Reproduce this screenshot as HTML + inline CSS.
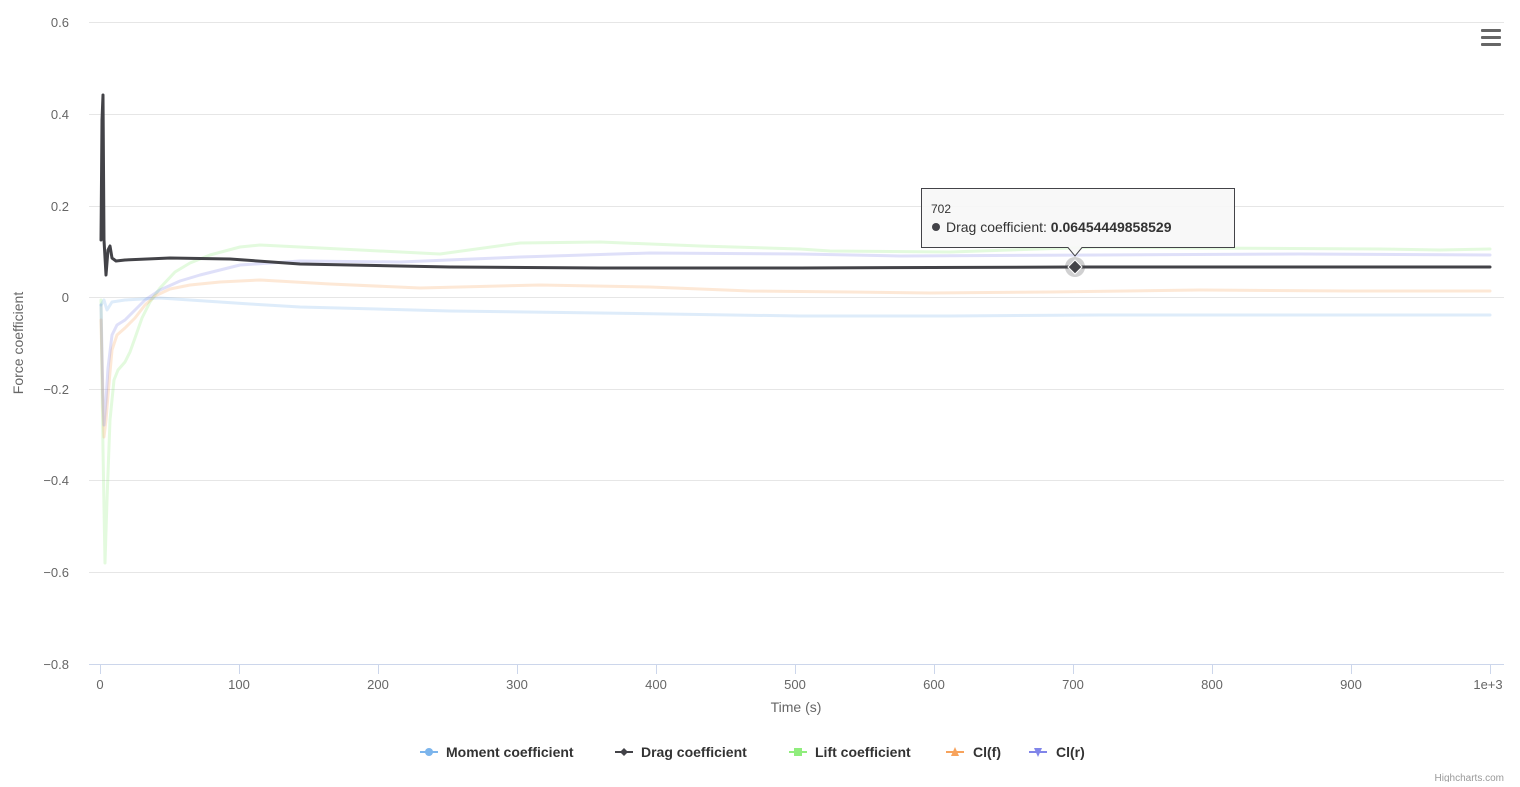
<!DOCTYPE html>
<html><head><style>
body{margin:0;background:#fff;font-family:"Liberation Sans",sans-serif}
</style></head><body>
<svg width="1520" height="782" xmlns="http://www.w3.org/2000/svg" font-family="Liberation Sans, sans-serif">
<rect width="1520" height="782" fill="#fff"/>
<g stroke="#e6e6e6" stroke-width="1">
<line x1="89" x2="1504" y1="22.5" y2="22.5"/><line x1="89" x2="1504" y1="114.5" y2="114.5"/>
<line x1="89" x2="1504" y1="206.5" y2="206.5"/><line x1="89" x2="1504" y1="297.5" y2="297.5"/>
<line x1="89" x2="1504" y1="389.5" y2="389.5"/><line x1="89" x2="1504" y1="480.5" y2="480.5"/>
<line x1="89" x2="1504" y1="572.5" y2="572.5"/>
</g>
<line x1="89" x2="1504" y1="664.5" y2="664.5" stroke="#ccd6eb"/>
<g stroke="#ccd6eb">
<line x1="100.5" x2="100.5" y1="664" y2="674"/><line x1="239.5" x2="239.5" y1="664" y2="674"/>
<line x1="378.5" x2="378.5" y1="664" y2="674"/><line x1="517.5" x2="517.5" y1="664" y2="674"/>
<line x1="656.5" x2="656.5" y1="664" y2="674"/><line x1="795.5" x2="795.5" y1="664" y2="674"/>
<line x1="934.5" x2="934.5" y1="664" y2="674"/><line x1="1073.5" x2="1073.5" y1="664" y2="674"/>
<line x1="1212.5" x2="1212.5" y1="664" y2="674"/><line x1="1351.5" x2="1351.5" y1="664" y2="674"/>
<line x1="1490.5" x2="1490.5" y1="664" y2="674"/>
</g>
<g font-size="13" fill="#666" text-anchor="end">
<text x="69" y="27">0.6</text><text x="69" y="119">0.4</text><text x="69" y="211">0.2</text>
<text x="69" y="302">0</text><text x="69" y="394">−0.2</text><text x="69" y="485">−0.4</text>
<text x="69" y="577">−0.6</text><text x="69" y="669">−0.8</text>
</g>
<g font-size="13" fill="#666" text-anchor="middle">
<text x="100" y="689">0</text><text x="239" y="689">100</text><text x="378" y="689">200</text>
<text x="517" y="689">300</text><text x="656" y="689">400</text><text x="795" y="689">500</text>
<text x="934" y="689">600</text><text x="1073" y="689">700</text><text x="1212" y="689">800</text>
<text x="1351" y="689">900</text><text x="1488" y="689">1e+3</text>
</g>
<text x="796" y="712" font-size="14" fill="#666" text-anchor="middle">Time (s)</text>
<text transform="translate(23,343) rotate(-90)" font-size="14" fill="#666" text-anchor="middle">Force coefficient</text>
<g fill="none" stroke-width="3" stroke-linejoin="round" stroke-linecap="round">
<polyline stroke="#90ed7d" stroke-opacity="0.25" points="101,300 103,450 105,563 107,500 110,420 114,380 118,370 125,362 130,352 135,338 142,318 150,302 160,288 175,272 190,263 210,255 240,247 260,245 300,247 360,250 440,254 520,243 600,242 700,246 800,249 830,251 950,252 1100,247 1200,248 1380,249 1440,250 1490,249"/>
<polyline stroke="#f7a35c" stroke-opacity="0.25" points="101,320 103,410 104,437 106,420 108,395 112,350 117,335 125,328 135,318 145,305 155,296 170,289 190,285 220,282 260,280 330,284 420,288 540,285 650,287 750,291 850,292 930,293 1050,292 1200,290 1350,291 1490,291"/>
<polyline stroke="#8085e9" stroke-opacity="0.25" points="101,305 103,400 104,425 106,400 108,368 112,335 117,325 125,320 135,310 145,300 160,290 180,281 200,275 220,270 240,265 300,261 400,262 520,257 650,253 800,254 900,256 1100,255 1300,254 1490,255"/>
<polyline stroke="#7cb5ec" stroke-opacity="0.25" points="101,305 104,300 107,310 112,302 125,300 160,298 250,304 300,307 450,311 600,313 800,316 950,316 1100,315 1300,315 1490,315"/>
<polyline stroke="#434348" points="101,240 102,120 103,95 104,240 106,275 108,250 110,246 112,258 116,261 125,260 170,258 230,259 300,264 450,267 600,268 800,268 1075,267 1490,267"/>
</g>
<circle cx="1075" cy="267" r="10" fill="#434348" fill-opacity="0.25"/>
<path d="M1075 260 L1082 267 L1075 274 L1068 267Z" fill="#434348" stroke="#fff" stroke-width="1"/>
<path d="M921.5 188.5 H1234.5 V247.5 H1082 L1075 256 L1068 247.5 H921.5Z" fill="#f7f7f7" fill-opacity="0.9" stroke="#434348"/>
<text x="931" y="213" font-size="12" fill="#333">702</text>
<circle cx="936" cy="227" r="4" fill="#434348"/>
<text x="946" y="232" font-size="14" fill="#333">Drag coefficient: <tspan font-weight="bold">0.06454449858529</tspan></text>
<g fill="#666"><rect x="1481" y="29" width="20" height="3" rx="1"/><rect x="1481" y="36" width="20" height="3" rx="1"/><rect x="1481" y="43" width="20" height="3" rx="1"/></g>
<g font-size="14" font-weight="bold" fill="#333">
<line x1="420" x2="438" y1="752" y2="752" stroke="#7cb5ec" stroke-width="2"/><circle cx="429" cy="752" r="4" fill="#7cb5ec"/>
<text x="446" y="757">Moment coefficient</text>
<line x1="615" x2="633" y1="752" y2="752" stroke="#434348" stroke-width="2"/><path d="M624 748 L628 752 L624 756 L620 752Z" fill="#434348"/>
<text x="641" y="757">Drag coefficient</text>
<line x1="789" x2="807" y1="752" y2="752" stroke="#90ed7d" stroke-width="2"/><rect x="794" y="748" width="8" height="8" fill="#90ed7d"/>
<text x="815" y="757">Lift coefficient</text>
<line x1="946" x2="964" y1="752" y2="752" stroke="#f7a35c" stroke-width="2"/><path d="M955 747 L959 756 L951 756Z" fill="#f7a35c"/>
<text x="973" y="757">Cl(f)</text>
<line x1="1029" x2="1047" y1="752" y2="752" stroke="#8085e9" stroke-width="2"/><path d="M1034 748 L1042 748 L1038 757Z" fill="#8085e9"/>
<text x="1056" y="757">Cl(r)</text>
</g>
<text x="1504" y="781" font-size="10" fill="#999" text-anchor="end">Highcharts.com</text>
</svg>
</body></html>
